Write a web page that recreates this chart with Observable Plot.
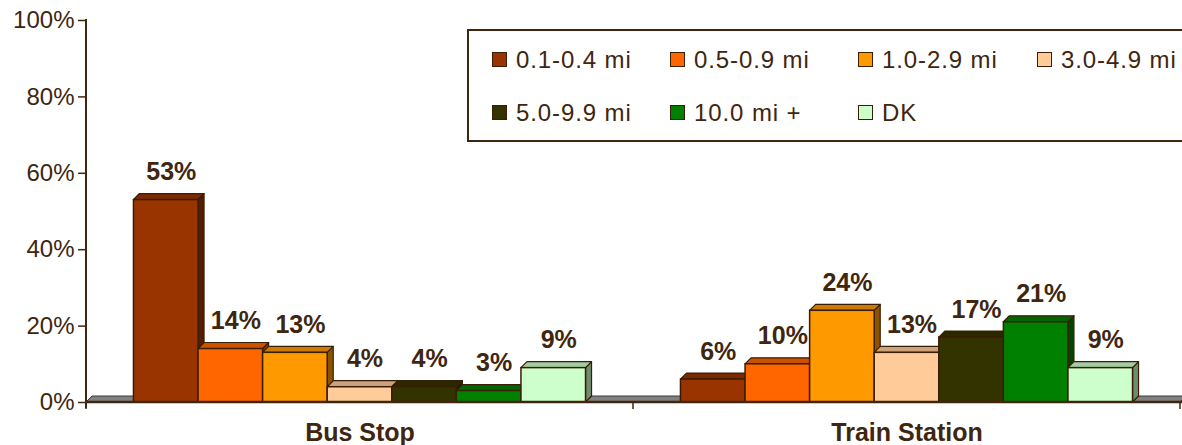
<!DOCTYPE html>
<html><head><meta charset="utf-8">
<script src="https://cdn.jsdelivr.net/npm/d3@7"></script>
<script src="https://cdn.jsdelivr.net/npm/@observablehq/plot@0.6"></script>
<style>
html,body{margin:0;padding:0;background:#fff;overflow:hidden;}
#chart{position:relative;width:1182px;height:445px;overflow:hidden;font-family:"Liberation Sans",Arial,sans-serif;color:#40260f;}
#legend{position:absolute;left:467px;top:29px;width:740px;height:107px;border:2px solid #40260f;background:#fff;display:grid;grid-template-columns:178px 188px 179px 190px;grid-auto-rows:53px;padding:2px 0 0 23px;}
.item{display:flex;align-items:center;font-size:24px;letter-spacing:0.9px;white-space:nowrap;}
.sw{width:13px;height:13px;border:1.5px solid #3a1d05;margin-right:9px;flex:none;}
</style></head><body><div id="chart"><div id="legend"></div></div>
<script>
const categories = ["Bus Stop", "Train Station"];
const distances = ["0.1-0.4 mi", "0.5-0.9 mi", "1.0-2.9 mi", "3.0-4.9 mi", "5.0-9.9 mi", "10.0 mi +", "DK"];
const busStop = [53, 14, 13, 4, 4, 3, 9];
const trainStation = [6, 10, 24, 13, 17, 21, 9];
const colors = ["#993300", "#ff6600", "#ff9900", "#ffcc99", "#333300", "#008000", "#ccffcc"];
const yTicks = [0, 20, 40, 60, 80, 100];

const seriesByCategory = [busStop, trainStation];
const data = [];
categories.forEach((c, ci) => distances.forEach((d, di) => data.push({location: c, distance: d, value: seriesByCategory[ci][di]})));

const INK = "#40260f";
const EDGE = "#3a1d05";
const D = 6;
function shade(col, k) { const c = d3.rgb(col); return d3.rgb(c.r * k, c.g * k, c.b * k).formatHex(); }

function render3d(index, scales, values, dimensions, context, next) {
  const X = values.x, Y1 = values.y1, Y2 = values.y2, F = values.fill;
  const w = scales.x.bandwidth();
  const g = d3.create("svg:g");
  for (const i of index) {
    const x0 = X[i], top = Math.min(Y1[i], Y2[i]), base = Math.max(Y1[i], Y2[i]);
    g.append("polygon")
      .attr("points", [[x0 + w, top], [x0 + w + D, top - D], [x0 + w + D, base - D], [x0 + w, base]].join(" "))
      .attr("fill", shade(F[i], 0.55)).attr("stroke", EDGE).attr("stroke-width", 1.2).attr("stroke-linejoin", "round");
    g.append("polygon")
      .attr("points", [[x0, top], [x0 + D, top - D], [x0 + w + D, top - D], [x0 + w, top]].join(" "))
      .attr("fill", shade(F[i], 0.8)).attr("stroke", EDGE).attr("stroke-width", 1.2).attr("stroke-linejoin", "round");
    g.append("rect").attr("x", x0).attr("y", top).attr("width", w).attr("height", base - top)
      .attr("fill", F[i]).attr("stroke", EDGE).attr("stroke-width", 1.5);
  }
  return g.node();
}

const plot = Plot.plot({
  width: 1182,
  height: 445,
  marginLeft: 86,
  marginRight: 2,
  marginTop: 20,
  marginBottom: 43,
  style: {fontFamily: "'Liberation Sans', Arial, sans-serif", fontSize: "24px", color: INK, background: "transparent", overflow: "visible"},
  fx: {domain: categories, padding: 0, round: false, label: null},
  x: {domain: distances, paddingInner: 0, paddingOuter: 0.735, round: false, axis: null},
  y: {domain: [0, 100], label: null},
  color: {domain: distances, range: colors},
  marks: [
    Plot.axisY({ticks: yTicks, tickSize: 8, tickPadding: 4, tickFormat: d => d + "%", label: null, stroke: INK, strokeWidth: 1.5, fontSize: 24}),
    Plot.axisFx({anchor: "bottom", tickSize: 0, tickPadding: 21, label: null, fontWeight: "bold", fontSize: 25, style: {letterSpacing: "0.8px"}}),
    Plot.barY(data, {fx: "location", x: "distance", y: "value", fill: "distance", render: render3d}),
    Plot.text(data, {fx: "location", x: "distance", y: "value", text: d => d.value + "%", lineAnchor: "bottom", dy: -20, dx: 5, fontWeight: "bold", fontSize: 25, fill: INK})
  ]
});

document.getElementById("chart").prepend(plot);
plot.style.position = "absolute";
plot.style.left = "0px";
plot.style.top = "0px";

// Floor and axis lines, positioned from Plot's own scales
const sy = plot.scale("y"), sfx = plot.scale("fx");
const y0 = sy.apply(0), yTop = sy.apply(100);
const fxr = sfx.range;
const xl = Math.min(...fxr), xr = Math.max(...fxr);
const svg = d3.select(plot);
const floor = svg.insert("g", "g");
floor.append("polygon")
  .attr("points", [[xl, y0], [xl + D, y0 - D], [xr + D, y0 - D], [xr, y0]].join(" "))
  .attr("fill", "#808080").attr("stroke", "#3a3a3a").attr("stroke-width", 1);
const axes = svg.append("g").attr("stroke", INK).attr("fill", "none");
axes.append("line").attr("x1", xl).attr("x2", xl).attr("y1", yTop - 1).attr("y2", y0 + 6).attr("stroke-width", 2);
axes.append("line").attr("x1", xl).attr("x2", xr + 10).attr("y1", y0).attr("y2", y0).attr("stroke-width", 2.5);
const bounds = [...sfx.domain.map(c => sfx.apply(c)), sfx.apply(sfx.domain[sfx.domain.length - 1]) + sfx.bandwidth];
bounds.forEach(bx => axes.append("line").attr("x1", bx).attr("x2", bx).attr("y1", y0).attr("y2", y0 + 7).attr("stroke-width", 1.5));

// Legend
const legend = d3.select("#legend");
distances.forEach((d, i) => {
  const it = legend.append("div").attr("class", "item");
  it.append("div").attr("class", "sw").style("background", colors[i]);
  it.append("span").text(d);
});
</script>
</body></html>
